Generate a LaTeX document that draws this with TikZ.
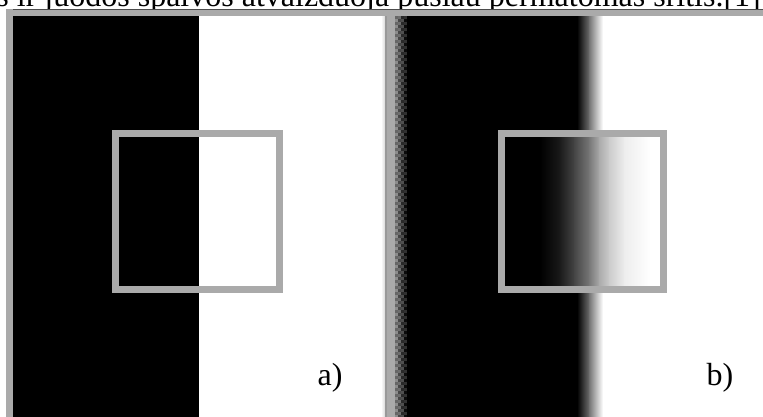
\documentclass[tikz,border=0pt]{standalone}
\usepackage{fontspec}
\setmainfont{Liberation Serif}
\usepackage{xcolor}
\usepackage{tikz}
\usetikzlibrary{positioning}
\definecolor{framegray}{RGB}{170,170,170}

\begin{document}
\begin{tikzpicture}[
        x=1pt, y=-1pt,
        frame/.style={fill=framegray},
        zoombox/.style={draw=framegray, line width=7pt},
        lbl/.style={font=\fontsize{32}{32}\selectfont, anchor=base, inner sep=0pt},
        caption/.style={font=\fontsize{32}{32}\selectfont, anchor=base east, inner sep=0pt}
    ]
        \useasboundingbox (0,0) rectangle (763,416);
        \clip (0,0) rectangle (763,416);
        \fill[white] (0,0) rectangle (763,420);

        % Caption (cut off at the top)
        \node[caption] (captiontext) at (761,6) {s ir juodos spalvos atvaizduoja pusiau permatomas sritis.[1]};

        % Frame
        \fill[frame] (6,9) rectangle (763,16);
        \draw[black!70, line width=1pt] (6,9.5) -- (763,9.5);
        \fill[frame] (6,9) rectangle (13,420);

        % Panel a: sharp edge
        \fill[black] (13,16) rectangle (199,420);
        \shade[left color=white, right color=black!15] (381,16) rectangle (385,420);
        \fill[black!40] (385,16) rectangle (387,420);
        \fill[frame] (387,16) rectangle (395,420);

        % Panel b: dithered left edge, blurred right edge
        \foreach \row in {0,...,134}
            \foreach \col in {0,...,3} {
                \pgfmathsetmacro\tone{int(45+12*\col+ifthenelse(mod(\row+\col,2)==0,15,0))}
                \fill[black!\tone] ({395+3*\col},{16+3*\row}) rectangle +(3,3);
            }
        \fill[black] (407,16) rectangle (578,420);
        \shade[left color=black, right color=black!55] (577,16) rectangle (590,420);
        \shade[left color=black!55, right color=white] (589,16) rectangle (603,420);

        % Zoomed area of b
        \fill[black] (505,137) rectangle (541,286);
        \foreach \xa/\xb/\ka/\kb in {540/560/100/90, 559/575/90/73, 574/590/73/53, 589/600/53/33, 599/610/33/20, 609/625/20/7, 624/650/7/0}
            \shade[left color=black!\ka, right color=black!\kb] (\xa,137) rectangle (\xb,286);

        % Zoom boxes
        \draw[zoombox] (115.5,133.5) rectangle (279.5,289.5);
        \draw[zoombox] (501.5,133.5) rectangle (663.5,289.5);

        % Labels
        \node[lbl] (labela) at (330,385) {a)};
        \node[lbl] (labelb) at (720,385) {b)};
    \end{tikzpicture}
\end{document}
